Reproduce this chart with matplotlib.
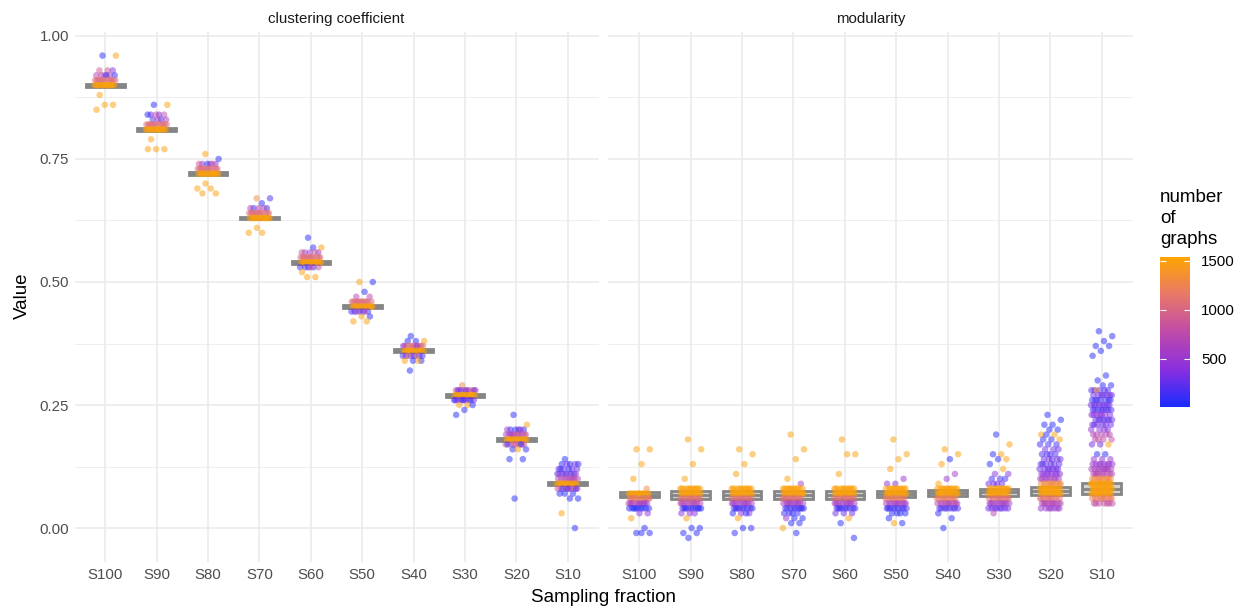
"""Clustering coefficient and modularity of sampled graphs, by sampling fraction."""

import matplotlib

matplotlib.use("Agg")
import matplotlib.pyplot as plt  # noqa: E402
import numpy as np  # noqa: E402
from matplotlib.colors import LinearSegmentedColormap, Normalize  # noqa: E402

plt.rcParams["font.family"] = ["Liberation Sans", "DejaVu Sans"]

# --- Data -------------------------------------------------------------

CATEGORIES = ["S100", "S90", "S80", "S70", "S60", "S50", "S40", "S30", "S20", "S10"]
PANELS = ["clustering coefficient", "modularity"]

# each entry: (value, number of graphs, how many points sit at that value)
CC_POINTS = [
    [(0.96, 60, 1), (0.96, 1500, 1), (0.93, 900, 2), (0.93, 400, 1), (0.92, 700, 4),
     (0.92, 100, 2), (0.91, 1050, 12), (0.90, 1500, 14), (0.88, 1500, 1), (0.86, 1500, 2),
     (0.85, 1500, 1)],
    [(0.86, 60, 1), (0.86, 1500, 1), (0.84, 300, 2), (0.84, 800, 2), (0.84, 80, 1),
     (0.83, 200, 2), (0.83, 600, 2), (0.82, 1050, 12), (0.81, 1500, 14), (0.79, 1500, 1),
     (0.77, 1500, 3)],
    [(0.76, 1500, 1), (0.75, 60, 1), (0.74, 400, 3), (0.74, 80, 1), (0.74, 900, 2),
     (0.73, 1050, 12), (0.72, 1500, 14), (0.70, 1500, 1), (0.69, 1500, 2), (0.68, 1500, 2)],
    [(0.67, 1300, 1), (0.67, 200, 1), (0.66, 60, 1), (0.65, 100, 2), (0.65, 700, 3),
     (0.64, 1050, 12), (0.63, 1500, 14), (0.61, 1500, 1), (0.60, 1500, 2)],
    [(0.59, 60, 1), (0.57, 1500, 1), (0.57, 80, 1), (0.56, 500, 3), (0.56, 900, 2),
     (0.55, 1050, 12), (0.54, 1500, 14), (0.53, 150, 4), (0.53, 800, 2), (0.52, 1500, 1),
     (0.51, 1500, 2)],
    [(0.50, 1500, 1), (0.50, 60, 1), (0.48, 60, 1), (0.47, 700, 2), (0.46, 1050, 12),
     (0.45, 1500, 14), (0.44, 150, 5), (0.44, 600, 2), (0.43, 60, 1), (0.43, 1500, 1),
     (0.42, 1500, 2)],
    [(0.39, 60, 1), (0.38, 1500, 1), (0.38, 60, 2), (0.37, 1050, 10), (0.37, 400, 2),
     (0.36, 1500, 14), (0.35, 200, 6), (0.35, 1000, 2), (0.34, 60, 2), (0.34, 1500, 2),
     (0.32, 60, 1)],
    [(0.29, 1300, 1), (0.28, 900, 7), (0.28, 300, 4), (0.27, 1500, 14), (0.26, 300, 7),
     (0.26, 150, 3), (0.25, 1500, 2), (0.25, 60, 1), (0.24, 60, 1), (0.23, 60, 1)],
    [(0.23, 60, 1), (0.21, 1500, 1), (0.20, 100, 4), (0.20, 500, 2), (0.19, 600, 9),
     (0.19, 1000, 2), (0.18, 1500, 14), (0.17, 900, 7), (0.17, 100, 2), (0.16, 60, 2),
     (0.16, 1500, 1), (0.14, 60, 2), (0.06, 60, 1)],
    [(0.14, 60, 1), (0.13, 60, 3), (0.13, 300, 2), (0.12, 300, 4), (0.12, 100, 2),
     (0.11, 150, 5), (0.11, 500, 3), (0.10, 700, 9), (0.09, 1500, 14), (0.08, 800, 7),
     (0.08, 150, 3), (0.07, 60, 3), (0.06, 60, 2), (0.03, 1500, 1), (0.00, 60, 1)],
]

MOD_POINTS = [
    [(0.16, 1500, 2), (0.13, 1500, 1), (0.10, 1500, 1), (0.08, 1300, 1), (0.07, 1500, 14),
     (0.06, 1000, 7), (0.06, 1300, 5), (0.05, 800, 7), (0.05, 500, 4), (0.04, 60, 9),
     (0.03, 400, 2), (0.02, 1500, 1), (0.00, 60, 1), (-0.01, 60, 3)],
    [(0.18, 1500, 1), (0.16, 1500, 1), (0.13, 1500, 1), (0.10, 1500, 1), (0.08, 1500, 12),
     (0.07, 1500, 14), (0.06, 1100, 10), (0.05, 700, 10), (0.04, 200, 6), (0.04, 60, 4),
     (0.03, 400, 3), (0.02, 1500, 1), (0.00, 60, 2), (-0.01, 60, 2), (-0.02, 60, 1)],
    [(0.16, 1500, 1), (0.15, 1500, 1), (0.13, 1500, 1), (0.11, 1500, 1), (0.08, 1500, 12),
     (0.07, 1500, 14), (0.06, 1100, 10), (0.05, 600, 10), (0.04, 150, 9), (0.03, 400, 2),
     (0.03, 60, 2), (0.02, 1500, 1), (0.00, 60, 2), (-0.01, 60, 1)],
    [(0.19, 1500, 1), (0.16, 1500, 1), (0.14, 1500, 1), (0.10, 1500, 1), (0.09, 600, 1),
     (0.08, 1500, 12), (0.07, 1500, 14), (0.06, 1100, 10), (0.05, 600, 10), (0.04, 150, 9),
     (0.03, 100, 4), (0.02, 60, 2), (0.02, 500, 1), (0.01, 60, 2), (0.00, 1500, 1),
     (-0.01, 60, 1)],
    [(0.18, 1500, 1), (0.15, 1500, 2), (0.11, 1500, 1), (0.08, 1500, 12), (0.07, 1500, 14),
     (0.06, 1100, 10), (0.05, 600, 10), (0.04, 150, 9), (0.03, 300, 3), (0.02, 1500, 1),
     (0.01, 60, 1), (-0.02, 60, 1)],
    [(0.18, 1500, 1), (0.15, 1500, 1), (0.14, 1500, 1), (0.12, 1500, 1), (0.10, 500, 1),
     (0.09, 400, 2), (0.08, 1500, 12), (0.07, 1500, 14), (0.06, 1200, 10), (0.05, 600, 10),
     (0.04, 150, 9), (0.03, 60, 4), (0.02, 60, 1), (0.01, 60, 1), (0.01, 1500, 1)],
    [(0.16, 1500, 1), (0.15, 1500, 1), (0.14, 60, 1), (0.13, 1500, 1), (0.11, 600, 1),
     (0.10, 500, 1), (0.09, 1500, 1), (0.08, 1500, 12), (0.07, 1500, 14), (0.06, 1200, 10),
     (0.05, 700, 10), (0.04, 200, 8), (0.03, 60, 1), (0.02, 60, 1), (0.00, 60, 1)],
    [(0.19, 60, 1), (0.17, 1500, 1), (0.15, 1500, 1), (0.15, 60, 1), (0.14, 1500, 1),
     (0.14, 60, 1), (0.13, 60, 1), (0.12, 1500, 1), (0.11, 400, 2), (0.10, 150, 3),
     (0.09, 300, 4), (0.08, 1500, 12), (0.07, 1500, 14), (0.06, 1100, 10), (0.05, 600, 10),
     (0.04, 300, 8), (0.03, 700, 1)],
    [(0.23, 60, 1), (0.22, 60, 1), (0.21, 60, 2), (0.20, 60, 2), (0.19, 1500, 2),
     (0.19, 60, 1), (0.18, 1500, 1), (0.18, 100, 2), (0.17, 150, 3), (0.16, 300, 3),
     (0.15, 200, 4), (0.14, 300, 5), (0.13, 250, 6), (0.12, 300, 7), (0.11, 400, 8),
     (0.10, 600, 8), (0.09, 1300, 10), (0.08, 1500, 14), (0.07, 1500, 14), (0.06, 1100, 10),
     (0.05, 700, 10), (0.04, 500, 7)],
    [(0.40, 60, 1), (0.39, 60, 1), (0.38, 60, 1), (0.37, 60, 2), (0.36, 60, 1),
     (0.35, 60, 1), (0.31, 60, 1), (0.30, 60, 1), (0.29, 100, 2), (0.28, 200, 5),
     (0.28, 1300, 1), (0.27, 300, 7), (0.26, 150, 7), (0.25, 300, 8), (0.24, 200, 8),
     (0.23, 400, 7), (0.22, 250, 7), (0.21, 300, 6), (0.20, 400, 4), (0.19, 700, 5),
     (0.18, 800, 4), (0.17, 1500, 1), (0.17, 300, 2), (0.15, 60, 2), (0.14, 500, 3),
     (0.13, 500, 8), (0.12, 600, 9), (0.11, 700, 9), (0.10, 1300, 10), (0.09, 1500, 14),
     (0.08, 1500, 14), (0.07, 1500, 14), (0.06, 1200, 10), (0.05, 800, 7)],
]

# box statistics (lower quartile, median, upper quartile)
CC_Q1 = [0.897, 0.807, 0.717, 0.627, 0.537, 0.447, 0.357, 0.267, 0.177, 0.087]
CC_MED = [0.900, 0.810, 0.720, 0.630, 0.540, 0.450, 0.360, 0.270, 0.180, 0.090]
CC_Q3 = [0.903, 0.813, 0.723, 0.633, 0.543, 0.453, 0.363, 0.273, 0.183, 0.093]
MOD_Q1 = [0.063, 0.060, 0.060, 0.060, 0.060, 0.064, 0.065, 0.066, 0.068, 0.069]
MOD_MED = [0.068, 0.067, 0.067, 0.067, 0.067, 0.070, 0.071, 0.073, 0.075, 0.080]
MOD_Q3 = [0.073, 0.075, 0.075, 0.075, 0.075, 0.076, 0.078, 0.080, 0.083, 0.091]

# --- Styling ----------------------------------------------------------

CMAP = LinearSegmentedColormap.from_list(
    "blue_orange", ["#1a2cff", "#8a2fe0", "#bf4aa8", "#e8786a", "#ffa500"]
)
NORM = Normalize(vmin=10, vmax=1540)
GRID = "#ebebeb"
TEXT = "#4d4d4d"
JITTER = 0.21
GOLDEN = 0.6180339887


def expand(points):
    """Turn (value, count, n) levels into flat arrays with a jitter offset."""
    vals, counts = [], []
    for v, c, n in points:
        vals += [v] * n
        counts += [c] * n
    k = np.arange(len(vals))
    offsets = ((k * GOLDEN + 0.37) % 1.0 - 0.5) * 2 * JITTER
    return np.array(vals), np.array(counts), offsets


def draw_panel(ax, points, q1, med, q3, title):
    stats = [
        {"q1": a, "med": m, "q3": b, "whislo": a, "whishi": b, "fliers": []}
        for a, m, b in zip(q1, med, q3)
    ]
    pos = np.arange(1, len(CATEGORIES) + 1)
    ax.bxp(
        stats,
        positions=pos,
        widths=0.75,
        patch_artist=True,
        showcaps=False,
        showfliers=False,
        boxprops=dict(facecolor=(0.65, 0.65, 0.65, 0.5), edgecolor="#858585", linewidth=2),
        medianprops=dict(color="#858585", linewidth=2),
        whiskerprops=dict(linewidth=0),
        zorder=2,
    )
    sc = None
    for i, pts in enumerate(points):
        vals, counts, offs = expand(pts)
        sc = ax.scatter(
            pos[i] + offs,
            vals,
            c=counts,
            cmap=CMAP,
            norm=NORM,
            s=22,
            alpha=0.5,
            linewidths=0,
            zorder=3,
        )
    ax.set_xlim(0.4, len(CATEGORIES) + 0.6)
    ax.set_ylim(-0.069, 1.009)
    ax.set_xticks(pos)
    ax.set_xticklabels(CATEGORIES)
    ax.set_yticks([0, 0.25, 0.5, 0.75, 1.0])
    ax.set_yticks([0.125, 0.375, 0.625, 0.875], minor=True)
    ax.grid(which="major", color=GRID, linewidth=1.2)
    ax.grid(which="minor", axis="y", color=GRID, linewidth=0.6)
    ax.set_axisbelow(True)
    for s in ax.spines.values():
        s.set_visible(False)
    ax.tick_params(which="both", length=0, labelsize=10.8, labelcolor=TEXT, pad=4)
    ax.set_title(title, fontsize=10.8, color="#1a1a1a", pad=6)
    return sc


def main() -> None:
    fig = plt.figure(figsize=(12.38, 6.07), dpi=100)
    ax_l = fig.add_axes([0.0602, 0.0741, 0.4233, 0.874])
    ax_r = fig.add_axes([0.4915, 0.0741, 0.4233, 0.874])

    draw_panel(ax_l, CC_POINTS, CC_Q1, CC_MED, CC_Q3, PANELS[0])
    sc = draw_panel(ax_r, MOD_POINTS, MOD_Q1, MOD_MED, MOD_Q3, PANELS[1])
    ax_l.yaxis.set_major_formatter(matplotlib.ticker.FormatStrFormatter("%.2f"))
    ax_r.tick_params(labelleft=False)

    fig.text(0.0178, 0.512, "Value", rotation=90, ha="center", va="center", fontsize=13.5)
    fig.text(0.4875, 0.016, "Sampling fraction", ha="center", va="center", fontsize=13.5)

    # colour legend
    cax = fig.add_axes([1160 / 1238, 1 - 407 / 607, 30 / 1238, 150 / 607])
    cb = fig.colorbar(sc, cax=cax, ticks=[500, 1000, 1500])
    cb.solids.set_alpha(1)
    cb.outline.set_visible(False)
    cax.tick_params(
        axis="y", direction="in", color="white", length=4, width=0.8,
        left=True, right=True, labelsize=10.8, labelcolor="black", pad=8,
    )
    fig.text(1160 / 1238, 1 - 189 / 607, "number\nof\ngraphs", ha="left", va="top",
             fontsize=13.5, linespacing=1.3)

    fig.savefig("out.png", dpi=100)


if __name__ == "__main__":
    main()
